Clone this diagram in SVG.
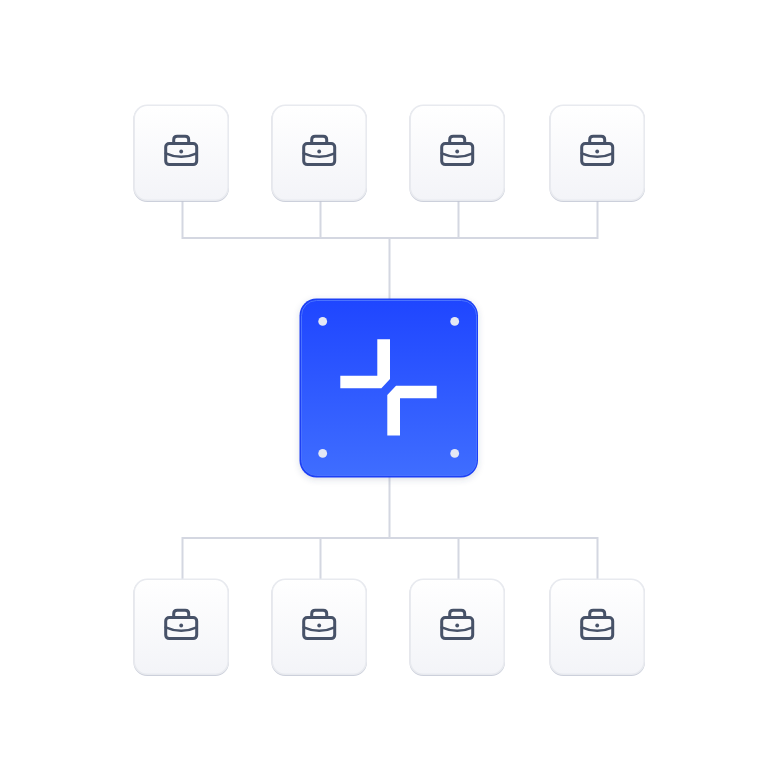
<svg xmlns="http://www.w3.org/2000/svg" width="778" height="778" viewBox="0 0 778 778">
<style>
.wire{fill:none;stroke:#d4d7e1;stroke-width:2}
.card{fill:url(#cardFill);stroke:#e8eaef;stroke-width:1.6;filter:url(#cardShadow)}
.ic{fill:none;stroke:#475268;stroke-width:3;stroke-linejoin:round;stroke-linecap:round}
.dot{fill:#e4e8f4}
</style>
<defs>
<linearGradient id="cardFill" x1="0" y1="0" x2="0" y2="1"><stop offset="0" stop-color="#ffffff"/><stop offset="1" stop-color="#f3f4f8"/></linearGradient>
<linearGradient id="blueFill" x1="0" y1="0" x2="0" y2="1"><stop offset="0" stop-color="#1f46ff"/><stop offset="1" stop-color="#3f6dff"/></linearGradient>
<filter id="cardShadow" x="-15%" y="-15%" width="130%" height="130%"><feDropShadow dx="0" dy="1" stdDeviation="0.5" flood-color="#c0c4d2" flood-opacity="0.8"/></filter>
<filter id="blueShadow" x="-15%" y="-15%" width="130%" height="130%"><feDropShadow dx="0" dy="2" stdDeviation="3" flood-color="#3a4470" flood-opacity="0.18"/></filter>
<g id="brief">
<rect class="ic" x="-15.500" y="-9.200" width="31" height="21" rx="3.500"/>
<path class="ic" d="M-7.500 -9.200V-13Q-7.500 -16.500 -4 -16.500H4Q7.500 -16.500 7.500 -13V-9.200"/>
<path class="ic" style="stroke-width:2.400" d="M-15.500 0.500Q0 7.500 15.500 0.500"/>
<circle cx="0" cy="-1.300" r="1.900" fill="#475268"/>
</g>
<rect id="cardBox" x="-47" y="-47.500" width="94" height="95" rx="13"/>
</defs>
<rect width="778" height="778" fill="#ffffff"/>
<g id="connectors">
<path class="wire" d="M182.500 201V238H597.500V201M320.500 201V238M458.500 201V238M389.500 238V299"/>
<path class="wire" d="M389.500 477V538M182.500 579V538H597.500V579M320.500 538V579M458.500 538V579"/>
</g>
<g id="node-top-1" transform="translate(181.200 152.800)"><use href="#cardBox" class="card"/><use href="#brief"/></g>
<g id="node-top-2" transform="translate(319.200 152.800)"><use href="#cardBox" class="card"/><use href="#brief"/></g>
<g id="node-top-3" transform="translate(457.200 152.800)"><use href="#cardBox" class="card"/><use href="#brief"/></g>
<g id="node-top-4" transform="translate(597.200 152.800)"><use href="#cardBox" class="card"/><use href="#brief"/></g>
<g id="node-bottom-1" transform="translate(181.200 626.800)"><use href="#cardBox" class="card"/><use href="#brief"/></g>
<g id="node-bottom-2" transform="translate(319.200 626.800)"><use href="#cardBox" class="card"/><use href="#brief"/></g>
<g id="node-bottom-3" transform="translate(457.200 626.800)"><use href="#cardBox" class="card"/><use href="#brief"/></g>
<g id="node-bottom-4" transform="translate(597.200 626.800)"><use href="#cardBox" class="card"/><use href="#brief"/></g>
<g id="node-center">
<rect x="299.500" y="298.500" width="178.500" height="179" rx="17" fill="#1c3ff5" filter="url(#blueShadow)"/>
<rect x="301.500" y="300.500" width="175" height="175" rx="15" fill="url(#blueFill)" stroke="#4a72ff" stroke-width="1"/>
<circle class="dot" cx="322.700" cy="321.400" r="4.400"/><circle class="dot" cx="454.700" cy="321.400" r="4.400"/>
<circle class="dot" cx="322.700" cy="453.400" r="4.400"/><circle class="dot" cx="454.700" cy="453.400" r="4.400"/>
<path fill="#ffffff" d="M377.300 339.300H390V379L381.400 388.300H340.300V375.700H377.300Z"/>
<path fill="#ffffff" d="M400 435.500H387.300V395L396 385.700H436.700V398.300H400Z"/>
</g>
</svg>
